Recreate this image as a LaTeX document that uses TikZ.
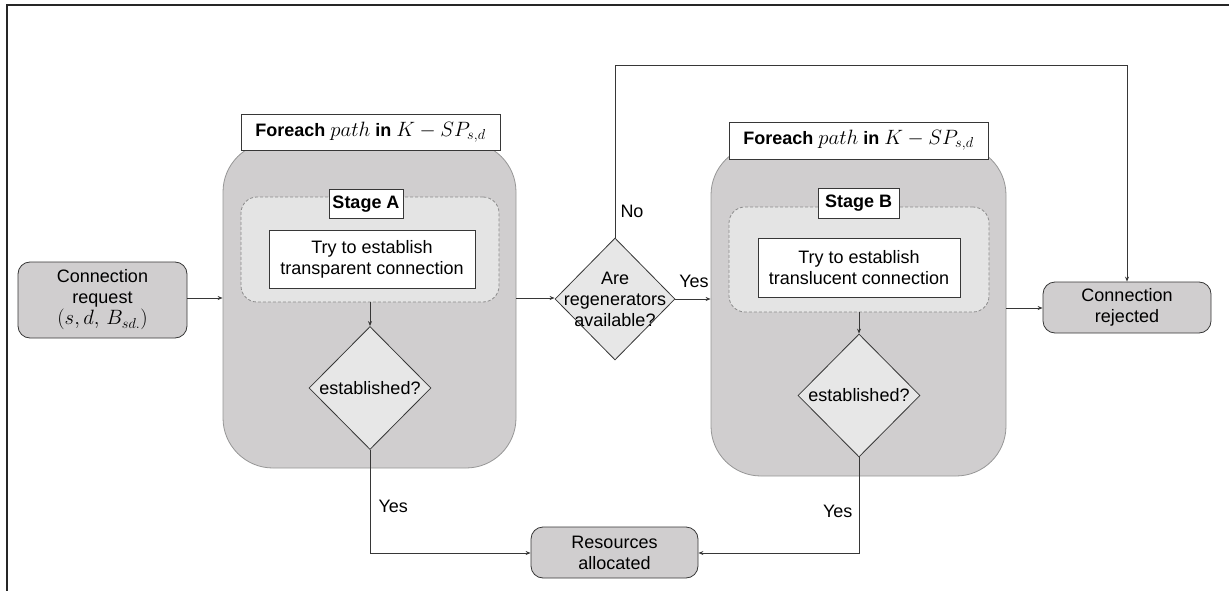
\documentclass[tikz,border=0pt]{standalone}
\usepackage{fontspec}
\setmainfont{Liberation Sans}
\usetikzlibrary{shapes.geometric,arrows.meta}
\definecolor{boxgray}{RGB}{208,206,207}
\definecolor{lightgray2}{RGB}{228,228,228}
\definecolor{diafill}{RGB}{231,231,231}
\definecolor{bigborder}{RGB}{150,150,150}
\definecolor{linecol}{RGB}{55,55,55}
\definecolor{dashcol}{RGB}{140,140,140}
\newcommand{\bigmath}[1]{{\fontsize{20}{21}\selectfont$#1$}}
\tikzset{
  txt/.style={font=\fontsize{18}{21}\selectfont, align=center, text=black},
  bigbox/.style={draw=bigborder, fill=boxgray, rounded corners=50pt, line width=0.8pt},
  stagebox/.style={draw=dashcol, fill=lightgray2, dashed, dash pattern=on 3pt off 2pt, rounded corners=16pt, line width=0.8pt},
  whitebox/.style={txt, draw=linecol, fill=white, line width=0.8pt, inner sep=0pt},
  endbox/.style={txt, draw=linecol, fill=boxgray, rounded corners=12pt, line width=0.8pt, inner sep=0pt},
  dia/.style={diamond, draw=linecol, fill=diafill, line width=0.8pt, inner sep=0pt},
  conn/.style={draw=linecol, line width=0.8pt},
  arr/.style={conn, -{Stealth[length=5pt,width=4pt]}},
}
\begin{document}
\begin{tikzpicture}[x=1pt,y=-1pt]
\useasboundingbox (0,0) rectangle (1229,591);
% frame
\draw[line width=1.5pt, draw=black!85] (7,591) -- (7,5) -- (1229,5);

% left block
\node[bigbox, minimum width=293pt, minimum height=326pt] (A) at (369.5,305) {};
\node[whitebox, minimum width=259pt, minimum height=36pt] (tA) at (370.5,132) {\textbf{Foreach} \bigmath{path} \textbf{in} \bigmath{K-SP_{s,d}}};
\node[stagebox, minimum width=258pt, minimum height=105pt] (sA) at (370,249.5) {};
\node[whitebox, minimum width=74pt, minimum height=29pt] (lA) at (366,204) {\textbf{Stage A}};
\node[whitebox, minimum width=206pt, minimum height=58pt] (trA) at (372,259) {Try to establish\\transparent connection};
\node[dia, minimum width=122pt, minimum height=123pt] (dA) at (370,388) {};
\node[txt] at (dA) {established?};

% right block
\node[bigbox, minimum width=295pt, minimum height=331pt] (B) at (858.5,310.5) {};
\node[whitebox, minimum width=259pt, minimum height=37pt] (tB) at (858.5,140.5) {\textbf{Foreach} \bigmath{path} \textbf{in} \bigmath{K-SP_{s,d}}};
\node[stagebox, minimum width=260pt, minimum height=105pt] (sB) at (859,259.5) {};
\node[whitebox, minimum width=81pt, minimum height=30pt] (lB) at (858.5,203) {\textbf{Stage B}};
\node[whitebox, minimum width=202pt, minimum height=59pt] (trB) at (859,267.5) {Try to establish\\translucent connection};
\node[dia, minimum width=122pt, minimum height=123pt] (dB) at (859,395.5) {};
\node[txt] at (dB) {established?};

% middle diamond
\node[dia, minimum width=120pt, minimum height=122pt] (reg) at (615,299) {};
\node[txt] at (reg) {Are\\regenerators\\available?};

% terminal boxes
\node[endbox, minimum width=169pt, minimum height=76pt] (req) at (102.5,300) {Connection\\request\\\bigmath{(s,d,\,B_{sd.})}};
\node[endbox, minimum width=167pt, minimum height=51pt] (res) at (614.5,552.5) {Resources\\allocated};
\node[endbox, minimum width=168pt, minimum height=51pt] (rej) at (1127,307.5) {Connection\\rejected};

\coordinate (nA) at (615,65);
\coordinate (nB) at (1127,65);
\coordinate (yA) at (370,553);
\coordinate (yB) at (859,553);

% connectors
\draw[arr] (req.east |- 0,298) -- (A.west |- 0,298);
\draw[arr] (sA.south -| dA.north) -- (dA.north);
\draw[arr] (A.east |- 0,298) -- (reg.west |- 0,298);
\draw[arr] (reg.east) -- (B.west |- reg.east);
\draw[arr] (sB.south -| dB.north) -- (dB.north);
\draw[arr] (B.east |- 0,308) -- (rej.west |- 0,308);
\draw[arr] (reg.north) -- (nA) -- (nB) -- (rej.north);
\draw[arr] (dA.south) -- (yA) -- (res.west |- yA);
\draw[arr] (dB.south) -- (yB) -- (res.east |- yB);

% labels
\node[txt] at (632,211) {No};
\node[txt] at (694,281) {Yes};
\node[txt, anchor=west] at (375,506) {Yes};
\node[txt, anchor=east] at (856,511) {Yes};
\end{tikzpicture}
\end{document}
